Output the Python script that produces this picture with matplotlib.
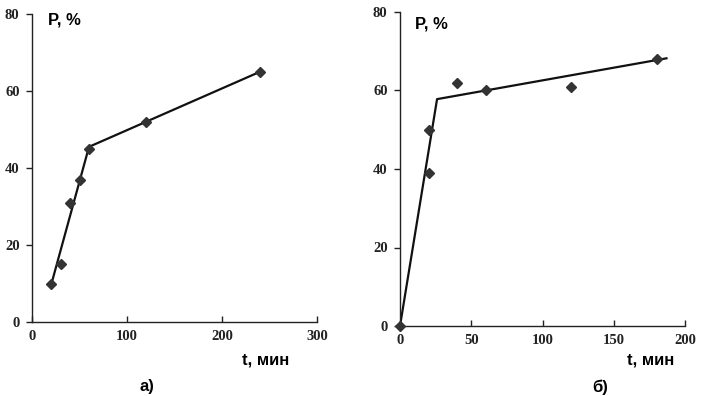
import matplotlib.pyplot as plt

# panel a
t_a = [20, 30, 40, 50, 60, 120, 240]
p_a = [10, 15, 31, 37, 45, 52, 65]
fit_t_a = [20, 60, 240]
fit_p_a = [9.5, 45.5, 65]

# panel b
t_b = [0, 20, 20, 40, 60, 120, 180]
p_b = [0, 39, 50, 62, 60, 61, 68]
fit_t_b = [0, 26, 187]
fit_p_b = [0, 57.8, 68.2]

fig = plt.figure(figsize=(7.06, 3.96), dpi=100)
ax1 = fig.add_axes([32 / 706, 1 - 322 / 396, 285 / 706, 308 / 396])
ax2 = fig.add_axes([400 / 706, 1 - 326 / 396, 285 / 706, 314 / 396])

serif = "Liberation Serif"
sans = "Liberation Sans"


def style(ax, xmax, xticks):
    ax.set_xlim(0, xmax)
    ax.set_ylim(0, 80)
    ax.set_xticks(xticks)
    ax.set_yticks([0, 20, 40, 60, 80])
    for s in ["top", "right"]:
        ax.spines[s].set_visible(False)
    for s in ["left", "bottom"]:
        ax.spines[s].set_linewidth(1.0)
        ax.spines[s].set_color("#222222")
    ax.tick_params(axis="y", direction="out", length=4, width=1,
                   colors="#222222", labelsize=10.5, pad=5)
    ax.tick_params(axis="x", direction="in", length=4, width=1,
                   colors="#222222", labelsize=10.5, pad=6)
    for lab in ax.get_xticklabels() + ax.get_yticklabels():
        lab.set_fontfamily(serif)
        lab.set_fontweight("bold")


ax1.plot(fit_t_a, fit_p_a, color="#111111", lw=1.6, zorder=2)
ax1.plot(t_a, p_a, "D", color="#333333", ms=5, zorder=3)
style(ax1, 300, [0, 100, 200, 300])

ax2.plot(fit_t_b, fit_p_b, color="#111111", lw=1.6, zorder=2)
ax2.plot(t_b, p_b, "D", color="#333333", ms=5, zorder=3, clip_on=False)
style(ax2, 200, [0, 50, 100, 150, 200])

# labels
kw = dict(fontsize=12, fontweight="bold", family=sans, va="center")
fig.text(48 / 706, 1 - 20 / 396, "Р, %", ha="left", **kw)
fig.text(415 / 706, 1 - 24 / 396, "Р, %", ha="left", **kw)
fig.text(242 / 706, 1 - 360 / 396, "t, мин", ha="left", **kw)
fig.text(627 / 706, 1 - 360 / 396, "t, мин", ha="left", **kw)
fig.text(147 / 706, 1 - 387 / 396, "а)", ha="center", **kw)
fig.text(600 / 706, 1 - 387 / 396, "б)", ha="center", **kw)

fig.savefig("out.png", dpi=100)
